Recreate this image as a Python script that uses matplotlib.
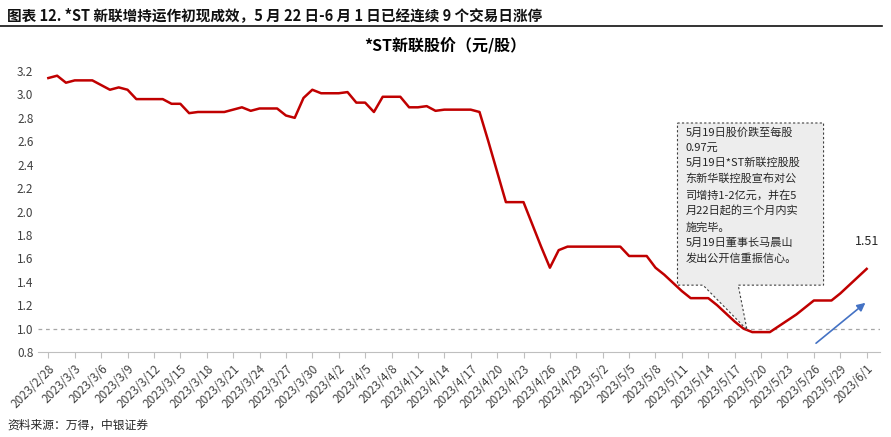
import datetime as dt

import matplotlib.pyplot as plt
from matplotlib.patches import Polygon

plt.rcParams["font.family"] = ["Noto Sans CJK SC", "DejaVu Sans"]

START = dt.date(2023, 2, 28)
PRICES = [
    3.14, 3.16, 3.10, 3.12, 3.12, 3.12, 3.08, 3.04, 3.06, 3.04,
    2.96, 2.96, 2.96, 2.96, 2.92, 2.92, 2.84, 2.85, 2.85, 2.85,
    2.85, 2.87, 2.89, 2.86, 2.88, 2.88, 2.88, 2.82, 2.80, 2.97,
    3.04, 3.01, 3.01, 3.01, 3.02, 2.93, 2.93, 2.85, 2.98, 2.98,
    2.98, 2.89, 2.89, 2.90, 2.86, 2.87, 2.87, 2.87, 2.87, 2.85,
    2.60, 2.34, 2.08, 2.08, 2.08, 1.89, 1.70, 1.52, 1.67, 1.70,
    1.70, 1.70, 1.70, 1.70, 1.70, 1.70, 1.62, 1.62, 1.62, 1.52,
    1.46, 1.39, 1.32, 1.26, 1.26, 1.26, 1.20, 1.13, 1.06, 1.00,
    0.97, 0.97, 0.97, 1.02, 1.07, 1.12, 1.18, 1.24, 1.24, 1.24,
    1.30, 1.37, 1.44, 1.51,
]
DATES = [START + dt.timedelta(days=i) for i in range(len(PRICES))]
TICK_LABELS = [f"{d.year}/{d.month}/{d.day}" for d in DATES[::3]]

NOTE = ("5月19日股价跌至每股\n0.97元\n5月19日*ST新联控股股\n东新华联控股宣布对公\n"
        "司增持1-2亿元，并在5\n月22日起的三个月内实\n施完毕。\n5月19日董事长马晨山\n发出公开信重振信心。")

fig = plt.figure(figsize=(8.91, 4.37), dpi=100)
ax = fig.add_axes([0.043, 0.1945, 0.945, 0.643])
x = list(range(len(PRICES)))

ax.plot(x, PRICES, color="#C00000", lw=1.8, zorder=3)
ax.axhline(1.0, color="#A6A6A6", ls=(0, (3, 3)), lw=0.9)

ax.set_xlim(-1.14, 94.55)
ax.set_ylim(0.8, 3.2)
ax.set_yticks([0.8 + 0.2 * i for i in range(13)])
ax.set_yticklabels([f"{0.8 + 0.2 * i:.1f}" for i in range(13)], fontsize=8.5, color="#404040")
ax.set_xticks(x[::3])
ax.set_xticklabels(TICK_LABELS, rotation=45, ha="right", rotation_mode="anchor",
                   fontsize=8.5, color="#404040")
ax.tick_params(axis="y", length=0)
ax.tick_params(axis="x", length=4, color="#BFBFBF")
for side in ["top", "right", "left"]:
    ax.spines[side].set_visible(False)
ax.spines["bottom"].set_color("#BFBFBF")

# callout box
callout = Polygon([(71.5, 2.756), (88.1, 2.756), (88.1, 1.371), (78.4, 1.371),
                   (79.4, 0.99), (74.4, 1.371), (71.5, 1.371)],
                  closed=True, facecolor="#EDEDED", edgecolor="#404040",
                  ls=(0, (2, 2)), lw=0.8, zorder=4)
ax.add_patch(callout)
ax.text(72.4, 2.72, NOTE, fontsize=8, va="top", ha="left", linespacing=1.62,
        color="#262626", zorder=5)

ax.text(x[-1], PRICES[-1] + 0.2, f"{PRICES[-1]:.2f}", fontsize=9, ha="center", color="#262626")
ax.annotate("", xy=(93.1, 1.235), xytext=(87.0, 0.86),
            arrowprops=dict(arrowstyle="-|>", color="#4472C4", lw=1.2, mutation_scale=12))

fig.text(0.008, 0.955, "图表 12. *ST 新联增持运作初现成效，5 月 22 日-6 月 1 日已经连续 9 个交易日涨停",
         fontsize=10.5, fontweight="bold", color="#111111")
fig.add_artist(plt.Line2D([0.0, 0.99], [0.94, 0.94], color="#111111", lw=1.2))
fig.text(0.5, 0.885, "*ST新联股价（元/股）", fontsize=11.5, fontweight="bold", ha="center")
fig.text(0.008, 0.02, "资料来源：万得，中银证券", fontsize=8.5, style="italic", color="#262626")

fig.savefig("out.png", dpi=100)
